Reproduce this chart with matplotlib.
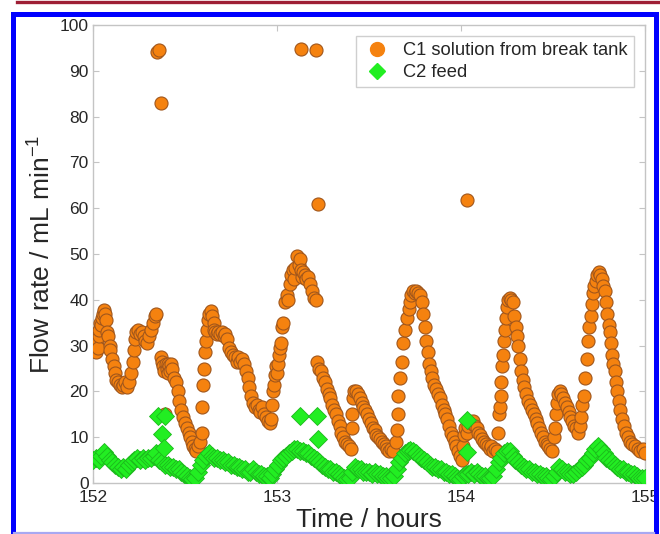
import matplotlib
matplotlib.use("Agg")
import matplotlib.pyplot as plt
from matplotlib.lines import Line2D

plt.rcParams['font.family'] = ['Liberation Sans', 'DejaVu Sans']

# C1 solution from break tank: time (h) and flow rate (mL/min)
c1_time = [
    152.000, 152.005, 152.010, 152.015, 152.020, 152.025, 152.030, 152.035, 152.040, 152.045,
    152.050, 152.055, 152.060, 152.065, 152.070, 152.075, 152.080, 152.090, 152.095, 152.105,
    152.115, 152.120, 152.125, 152.135, 152.145, 152.155, 152.165, 152.175, 152.185, 152.195,
    152.205, 152.215, 152.225, 152.230, 152.235, 152.245, 152.255, 152.265, 152.275, 152.285,
    152.295, 152.305, 152.315, 152.325, 152.335, 152.345,
    152.350, 152.358, 152.372,
    152.370, 152.375, 152.380, 152.390, 152.385, 152.395, 152.400, 152.405, 152.410, 152.415,
    152.420, 152.425, 152.430, 152.440, 152.450, 152.460, 152.470, 152.480, 152.490, 152.500,
    152.510, 152.520, 152.527, 152.537, 152.545, 152.552, 152.560,
    152.570, 152.580, 152.590, 152.595, 152.600, 152.603, 152.607, 152.612, 152.618, 152.625,
    152.632, 152.640, 152.647,
    152.655, 152.660, 152.665, 152.672, 152.680, 152.690, 152.700, 152.710, 152.720, 152.730,
    152.740, 152.750, 152.760, 152.770, 152.780, 152.790, 152.800, 152.810, 152.820, 152.830,
    152.840, 152.850, 152.860, 152.870, 152.880, 152.890, 152.900, 152.910, 152.920, 152.930,
    152.940, 152.950, 152.960, 152.970,
    152.975, 152.980, 152.985, 152.990, 152.995, 153.000, 153.005, 153.010, 153.015, 153.020,
    153.028, 153.035, 153.045, 153.055, 153.062, 153.070, 153.078, 153.085, 153.092, 153.100,
    153.110, 153.118,
    153.125, 153.130, 153.135, 153.140, 153.150, 153.160, 153.170, 153.180, 153.190, 153.200,
    153.210,
    153.130, 153.210, 153.225,
    153.220, 153.230, 153.240, 153.250, 153.260, 153.270, 153.280, 153.290, 153.300, 153.310,
    153.320, 153.330, 153.340, 153.350, 153.360, 153.370, 153.380, 153.390, 153.400,
    153.405, 153.410, 153.415, 153.420, 153.430, 153.440, 153.450, 153.460, 153.470, 153.480,
    153.490, 153.500, 153.510, 153.520, 153.530, 153.540, 153.550, 153.560, 153.570, 153.580,
    153.590, 153.600, 153.610, 153.620, 153.630,
    153.645, 153.652, 153.655, 153.660, 153.668, 153.677, 153.685, 153.695, 153.705, 153.715,
    153.723, 153.730, 153.740, 153.750, 153.758, 153.766, 153.775, 153.788,
    153.795, 153.802, 153.810, 153.818, 153.826, 153.835, 153.845, 153.855, 153.865, 153.875,
    153.885, 153.895, 153.905, 153.915, 153.925, 153.935, 153.945, 153.955, 153.965, 153.975,
    153.985, 153.995, 154.005,
    154.010, 154.015, 154.022, 154.030, 154.038, 154.045, 154.055, 154.065, 154.075, 154.085,
    154.095, 154.105, 154.115, 154.125, 154.135, 154.145, 154.155, 154.165, 154.175, 154.185,
    154.195,
    154.030,
    154.200, 154.205, 154.210, 154.215, 154.220, 154.225, 154.230, 154.235, 154.240, 154.245,
    154.252, 154.258, 154.265, 154.272, 154.280,
    154.290, 154.298, 154.305, 154.312, 154.320, 154.328, 154.336, 154.345, 154.355, 154.365,
    154.375, 154.385, 154.395, 154.405, 154.415, 154.425, 154.435, 154.445, 154.455, 154.465,
    154.475, 154.485, 154.495,
    154.505, 154.510, 154.515, 154.520, 154.528, 154.536, 154.545, 154.555, 154.565, 154.575,
    154.585, 154.595, 154.605, 154.615, 154.625, 154.635,
    154.645, 154.652, 154.660, 154.667, 154.675, 154.683, 154.690, 154.698, 154.705, 154.710,
    154.718, 154.725, 154.732, 154.740, 154.748, 154.756, 154.765, 154.772,
    154.780, 154.788, 154.795, 154.802, 154.810, 154.815, 154.822, 154.828, 154.835, 154.842,
    154.850, 154.858, 154.866, 154.875, 154.885, 154.895, 154.905, 154.918, 154.930, 154.945,
    154.960, 154.975, 154.990, 155.000,
]
c1_flow = [
    31.5, 29.0, 30.5, 28.5, 31.0, 29.5, 32.0, 33.5, 35.0, 34.5,
    36.0, 37.0, 37.8, 37.0, 35.5, 33.0, 32.0, 30.0, 29.0, 27.0,
    25.5, 24.0, 22.5, 22.0, 21.5, 21.0, 21.5, 22.0, 21.0, 22.0,
    24.0, 26.5, 29.0, 31.5, 33.0, 33.5, 32.5, 33.0, 32.0, 31.0,
    30.5, 32.0, 33.5, 35.0, 36.5, 37.0,
    94.2, 94.5, 83.0,
    27.5, 26.5, 25.5, 15.0, 24.5, 26.0, 25.0, 24.0, 26.0, 25.5,
    24.5, 26.0, 25.0, 23.0, 22.0, 20.0, 18.0, 16.0, 14.5, 13.0,
    12.0, 11.0, 10.0, 9.0, 8.0, 7.5, 7.0,
    8.0, 9.0, 11.0, 16.5, 21.5, 25.0, 28.5, 31.0, 33.5, 35.5,
    37.0, 37.5, 36.5,
    35.0, 33.5, 33.0, 32.5, 33.0, 32.5, 33.0, 32.0, 32.5, 31.5,
    29.5, 28.5, 28.0, 27.5, 26.5, 27.5, 26.5, 27.0, 26.0, 24.5,
    23.0, 21.0, 19.0, 17.5, 16.5, 17.0, 16.0, 15.5, 16.5, 15.0,
    14.5, 13.5, 13.0, 14.0,
    17.0, 20.0, 21.5, 23.5, 25.5, 24.0, 26.0, 28.0, 29.5, 30.5,
    34.0, 35.0, 39.5, 41.0, 40.0, 43.5, 45.5, 46.5, 44.5, 47.0,
    49.5, 47.5,
    49.0, 46.5, 45.0, 46.0, 45.5, 44.5, 45.0, 43.5, 42.0, 40.5,
    40.0,
    94.8, 94.5, 61.0,
    26.5, 25.0, 24.5, 23.0, 22.0, 20.5, 19.5, 18.5, 17.0, 16.0,
    15.0, 13.5, 12.5, 11.0, 10.0, 9.0, 8.5, 8.0, 7.5,
    12.0, 15.0, 18.5, 20.0, 20.0, 19.5, 18.5, 17.5, 16.5, 16.0,
    15.0, 14.0, 13.0, 12.0, 11.5, 10.5, 10.0, 9.5, 9.0, 8.5,
    8.0, 7.5, 7.0, 7.5, 7.0,
    9.0, 11.5, 15.0, 19.0, 23.0, 26.5, 30.5, 33.5, 36.0, 38.0,
    39.5, 41.0, 42.0, 41.5, 42.0, 41.5, 41.0, 39.5,
    37.0, 34.0, 31.0, 28.5, 26.0, 24.5, 23.0, 21.5, 20.5, 19.5,
    18.5, 17.0, 16.0, 15.0, 14.0, 12.5, 11.0, 10.0, 9.0, 8.0,
    7.0, 6.0, 5.0,
    8.0, 10.5, 12.0, 11.0, 12.5, 13.5, 13.0, 13.5, 12.5, 12.0,
    11.0, 10.5, 9.5, 9.0, 8.5, 8.0, 7.5, 8.0, 7.0, 7.5,
    7.0,
    61.7,
    11.0, 15.0, 16.5, 19.0, 22.0, 25.5, 28.0, 31.0, 33.5, 36.0,
    38.5, 40.0, 40.5, 40.0, 39.5,
    36.5, 34.0, 32.0, 30.0, 27.0, 24.5, 22.5, 21.0, 19.5, 18.0,
    17.0, 16.0, 15.0, 14.0, 13.0, 12.0, 11.0, 10.0, 9.0, 8.5,
    8.0, 7.5, 7.0,
    10.0, 12.0, 15.0, 17.5, 19.5, 20.0, 19.5, 18.5, 17.5, 16.5,
    15.5, 14.5, 13.5, 12.5, 12.0, 11.0,
    12.5, 14.5, 17.0, 19.0, 23.0, 27.0, 31.0, 34.0, 36.5, 39.0,
    41.5, 43.0, 44.0, 45.5, 46.0, 45.5, 44.5, 43.0,
    42.0, 39.5, 37.0, 34.5, 33.0, 30.5, 28.0, 26.0, 24.5, 22.0,
    20.0, 18.0, 16.0, 14.0, 12.5, 11.0, 10.0, 9.0, 8.5, 8.0,
    7.5, 7.0, 7.5, 6.5,
]

# C2 feed: time (h) and flow rate (mL/min)
c2_time = [
    152.000, 152.015, 152.030, 152.045, 152.060, 152.075, 152.090, 152.105, 152.120, 152.135,
    152.150, 152.165, 152.180, 152.195, 152.210, 152.225, 152.240, 152.255, 152.270, 152.285,
    152.300, 152.315, 152.330, 152.345, 152.360, 152.375, 152.390, 152.405, 152.420, 152.435,
    152.450, 152.465, 152.480, 152.495, 152.510, 152.525, 152.540, 152.555, 152.570, 152.585,
    152.600, 152.615, 152.630, 152.645, 152.660, 152.675, 152.690, 152.705, 152.720, 152.735,
    152.750, 152.765, 152.780, 152.795, 152.810, 152.825, 152.840, 152.855, 152.870, 152.885,
    152.900, 152.915, 152.930, 152.945, 152.960, 152.975, 152.990, 153.005, 153.020, 153.035,
    153.050, 153.065, 153.080, 153.095, 153.110, 153.125, 153.140, 153.155, 153.170, 153.185,
    153.200, 153.215, 153.230, 153.245, 153.260, 153.275, 153.290, 153.305, 153.320, 153.335,
    153.350, 153.365, 153.380, 153.395, 153.410, 153.425, 153.440, 153.455, 153.470, 153.485,
    153.500, 153.515, 153.530, 153.545, 153.560, 153.575, 153.590, 153.605, 153.620, 153.635,
    153.650, 153.665, 153.680, 153.695, 153.710, 153.725, 153.740, 153.755, 153.770, 153.785,
    153.800, 153.815, 153.830, 153.845, 153.860, 153.875, 153.890, 153.905, 153.920, 153.935,
    153.950, 153.965, 153.980, 153.995, 154.010, 154.025, 154.040, 154.055, 154.070, 154.085,
    154.100, 154.115, 154.130, 154.145, 154.160, 154.175, 154.190, 154.205, 154.220, 154.235,
    154.250, 154.265, 154.280, 154.295, 154.310, 154.325, 154.340, 154.355, 154.370, 154.385,
    154.400, 154.415, 154.430, 154.445, 154.460, 154.475, 154.490, 154.505, 154.520, 154.535,
    154.550, 154.565, 154.580, 154.595, 154.610, 154.625, 154.640, 154.655, 154.670, 154.685,
    154.700, 154.715, 154.730, 154.745, 154.760, 154.775, 154.790, 154.805, 154.820, 154.835,
    154.850, 154.865, 154.880, 154.895, 154.910, 154.925, 154.940, 154.955, 154.970, 154.985,
    155.000,
    152.355, 152.390, 152.375, 152.385, 153.125, 153.218, 153.225, 154.030, 154.030,
]
c2_flow = [
    5.0, 5.5, 5.0, 6.0, 6.8, 6.0, 5.0, 4.5, 4.0, 3.5,
    3.0, 3.5, 3.0, 4.0, 4.5, 5.0, 5.5, 5.0, 5.5, 5.0,
    5.5, 5.5, 6.0, 6.5, 5.0, 4.5, 4.0, 4.0, 3.5, 3.5,
    3.0, 3.0, 2.5, 2.0, 1.5, 1.0, 0.8, 1.0, 2.5, 4.0,
    5.0, 6.0, 6.5, 6.0, 5.5, 5.5, 5.0, 5.0, 4.5, 4.5,
    4.0, 4.0, 3.5, 3.5, 3.0, 3.0, 2.5, 2.5, 3.0, 2.5,
    2.0, 2.0, 1.5, 1.5, 1.0, 2.0, 3.0, 4.0, 5.0, 5.5,
    6.0, 6.5, 7.0, 7.5, 7.5, 7.0, 7.0, 6.5, 6.5, 6.0,
    5.5, 5.0, 4.5, 4.0, 3.5, 3.0, 3.0, 2.5, 2.5, 2.0,
    1.5, 1.0, 0.8, 1.0, 2.5, 3.5, 3.0, 3.0, 2.5, 2.5,
    2.5, 2.0, 2.5, 2.0, 2.0, 1.5, 1.5, 1.0, 1.0, 1.5,
    3.0, 4.5, 5.5, 6.5, 7.0, 7.3, 7.0, 6.5, 6.0, 5.5,
    5.0, 4.5, 4.0, 3.5, 3.5, 3.0, 3.0, 2.5, 2.5, 2.0,
    2.0, 1.5, 1.0, 0.8, 1.5, 2.0, 2.0, 2.5, 2.0, 2.5,
    2.0, 1.5, 1.5, 1.0, 1.0, 1.5, 3.0, 4.5, 5.5, 6.5,
    7.0, 7.0, 6.0, 5.0, 4.5, 4.0, 3.5, 3.0, 3.0, 2.5,
    2.5, 2.0, 2.0, 1.5, 1.5, 1.0, 0.8, 1.5, 2.5, 3.5,
    3.0, 2.5, 2.5, 2.0, 2.0, 2.5, 3.0, 3.5, 4.0, 5.0,
    5.5, 6.5, 7.5, 8.0, 7.5, 6.5, 5.5, 5.0, 4.5, 4.0,
    3.5, 3.0, 3.0, 2.5, 2.5, 2.0, 2.0, 1.5, 1.0, 1.2,
    1.2,
    14.6, 14.6, 10.7, 7.6, 14.6, 14.6, 9.6, 13.8, 6.8,
]

x_ticks = [152, 153, 154, 155]
y_ticks = [0, 10, 20, 30, 40, 50, 60, 70, 80, 90, 100]

series_labels = ['C1 solution from break tank', 'C2 feed']
orange_face, orange_edge = '#F5820F', '#A0561C'
green_face, green_edge = '#22EE22', '#1CB81C'
spine_gray = '#C4C4C4'
text_color = '#262626'

fig = plt.figure(figsize=(6.6, 5.34), dpi=100)
ax = fig.add_axes([93 / 660, 1 - 483 / 534, (645 - 93) / 660, (483 - 25) / 534])

ax.plot(c1_time, c1_flow, linestyle='none', marker='o', markersize=9.4,
        markerfacecolor=orange_face, markeredgecolor=orange_edge, markeredgewidth=0.8,
        label=series_labels[0], zorder=3)
ax.plot(c2_time, c2_flow, linestyle='none', marker='D', markersize=9.6,
        markerfacecolor=green_face, markeredgecolor=green_edge, markeredgewidth=0.6,
        label=series_labels[1], zorder=4)

ax.set_xlim(152, 155)
ax.set_ylim(0, 100)
ax.set_xticks(x_ticks)
ax.set_yticks(y_ticks)
ax.set_xticklabels([str(v) for v in x_ticks])
ax.set_yticklabels([str(v) for v in y_ticks])

for side in ax.spines.values():
    side.set_color(spine_gray)
    side.set_linewidth(1.0)
ax.tick_params(axis='both', which='both', direction='in', length=4, width=0.8,
               color=spine_gray, labelcolor=text_color, labelsize=12.5,
               top=True, right=True)
ax.tick_params(axis='x', pad=5)
ax.tick_params(axis='y', pad=3)

ax.set_xlabel('Time / hours', fontsize=19, color=text_color, labelpad=2)
ax.set_ylabel(r'Flow rate / mL min$^{\mathregular{-1}}$', fontsize=19,
              color=text_color, labelpad=4)

handles = [
    Line2D([], [], linestyle='none', marker='o', markersize=10,
           markerfacecolor=orange_face, markeredgecolor=orange_face),
    Line2D([], [], linestyle='none', marker='D', markersize=8,
           markerfacecolor=green_face, markeredgecolor=green_face),
]
leg = ax.legend(handles, series_labels, loc='upper right', fontsize=13.2,
                frameon=True, fancybox=False, edgecolor=spine_gray,
                borderaxespad=0.6, handletextpad=0.6, borderpad=0.35,
                labelspacing=0.25, handlelength=1.6, labelcolor=text_color)
leg.get_frame().set_linewidth(1.0)

# page decoration: blue outline (pale lower edge) and the red rule above it
def fig_line(x0, y0, x1, y1, color, lw):
    fig.add_artist(Line2D([x0 / 660, x1 / 660], [1 - y0 / 534, 1 - y1 / 534],
                          transform=fig.transFigure, color=color, linewidth=lw,
                          solid_capstyle='projecting', zorder=10))

fig_line(12.5, 13.5, 12.5, 534, '#0000FF', 3.6)
fig_line(12.5, 13.5, 655.5, 13.5, '#0000FF', 3.6)
fig_line(655.5, 13.5, 655.5, 534, '#0000FF', 3.6)
fig_line(14, 532.5, 654, 532.5, '#A8A8F2', 1.6)
fig_line(17, 1.5, 660, 1.5, '#9E1F35', 2.4)

fig.savefig('out.png', dpi=100)
